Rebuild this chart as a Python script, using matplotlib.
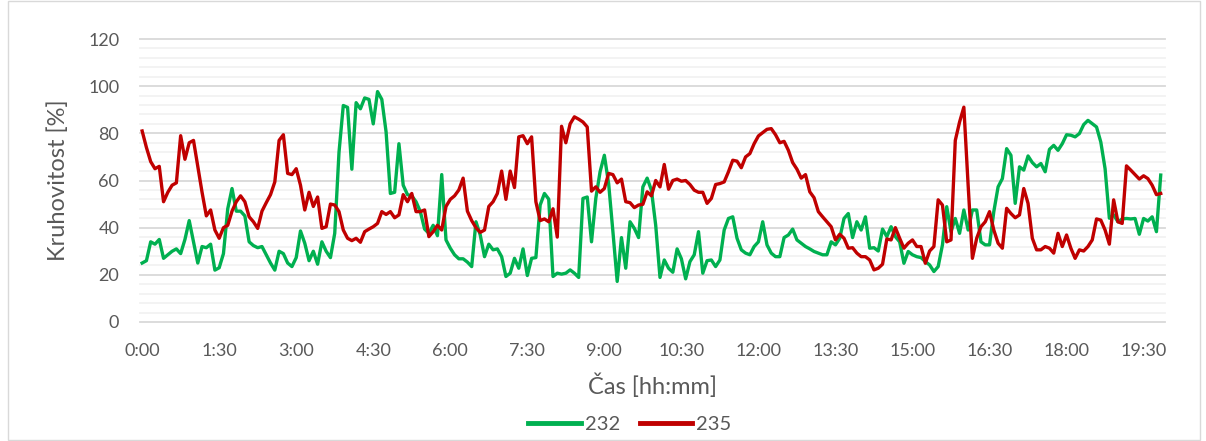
"""Kruhovitost over time for samples 232 and 235 (Excel-style line chart)."""

import matplotlib

matplotlib.use("Agg")
import matplotlib.pyplot as plt
import numpy as np
from matplotlib.lines import Line2D
from matplotlib.patches import Rectangle

plt.rcParams["font.family"] = ["Lato", "DejaVu Sans"]

STEP_MIN = 5  # one reading every 5 minutes
TICK_EVERY_MIN = 90
TICK_LABELS = ["0:00", "1:30", "3:00", "4:30", "6:00", "7:30", "9:00",
               "10:30", "12:00", "13:30", "15:00", "16:30", "18:00", "19:30"]

SERIES_232 = [
    25, 26, 34, 33, 35, 27, 28.5, 30, 31, 29, 35, 43, 34, 25, 32, 31.5, 33, 22, 23, 29,
    48, 56.6, 47, 47, 45, 34, 32.4, 31.5, 32, 28.5, 25, 22, 30, 29, 25,
    23.5, 27.3, 38.6, 33.4, 26, 30, 24.5, 34, 30, 27.3, 37.6, 72, 91.8, 91, 64.8, 93, 90.4,
    95, 94.4, 84, 97.7, 94.4, 80.6, 54.5, 55, 75.6, 58, 54, 53.5, 51, 46.8, 39.4, 37.6, 41,
    36.6, 62.5, 34.8, 31.3, 28.5, 26.8, 26.8, 25.4, 23.5, 42.5, 36.9, 27.7, 33, 30.6, 31,
    27.7, 19.3, 20.7, 27, 22.8, 31, 19.7, 27, 27.3, 49.6, 54.5, 52.1, 19.3, 20.7, 20.3,
    20.7, 22.1, 20.7, 18.9,
    52.4, 53, 34, 52.4, 63.7, 70.7, 58.7, 38.3, 17.2, 35.8, 22.8, 42.5, 39.7, 35.8, 57.3,
    61, 55.9, 41, 18.9, 26.3, 22.8, 21.1, 31, 26.8, 18.3, 25.6, 28.5, 38.3, 20.7, 26,
    26.3, 23.5, 26.3,
    39, 43.9, 44.6, 35.5, 30.6, 29.2, 28.5, 32, 34, 42.5, 32.7, 29.2, 27.7, 27.7, 35.8,
    36.9, 39.4, 34.8, 33.4, 32, 31, 29.9, 29.2, 28.5, 28.5, 34, 32.7, 35.5, 43.9, 46,
    35.8, 42.5, 39, 44.6, 31.3,
    31.5, 30.1, 39.4, 36.2, 40.4, 36.2, 34, 24.9, 29.9, 28.5, 27.7, 27.3, 25.6, 24.2, 21.4,
    23.5, 32.7, 48.9, 38.3, 43.9, 37.6, 47.5, 39, 47.5, 47.5, 34, 32.7, 32.7, 46.8, 57.3,
    60.8, 73.5, 70.7, 50.3,
    65.8, 64.4, 70.4, 67.6, 65.8, 67.2, 63.7, 73.2, 74.9, 72.8, 75.6, 79.4, 79.2, 78.5,
    79.9, 83.7, 85.5, 84.1, 82.7, 76.3, 65, 44, 45.4, 42.5, 43.7, 43.9, 43.7, 43.9, 37.2,
    43.9, 42.8, 44.6, 38.3, 62.3,
]

SERIES_235 = [
    81, 74, 68, 65, 66, 51, 55, 58, 59, 79, 69, 76, 77, 66, 55, 45, 47.5, 39, 35.5, 40,
    41, 47, 51, 53.5, 51, 44.6, 42.5, 39.7, 47, 50.6, 54, 59.4, 77, 79.4, 63,
    62.5, 65, 58, 47.5, 55, 49, 53, 39.7, 40.4, 50, 49.6, 46.8, 39, 35.5, 34.5, 35.5, 33.8,
    38.3, 39.4, 40.4, 41.8, 46.8, 45.6, 46.8, 44.2, 45.4, 54, 51, 54.5, 46.8, 46.8, 47.5,
    36.2, 38.3,
    41, 39, 49, 52, 53.5, 56, 61, 47, 43, 40, 38, 39, 49, 51, 54.5, 64, 52, 64, 57, 78.5,
    79, 75.6, 78.5, 51, 43, 43.7, 42.5, 48, 36, 83, 76, 84, 87, 86,
    84.8, 82.7, 55.5, 57.3, 55, 56.6, 63, 62.5, 59, 60.6, 51, 50.6, 48.5, 49.6, 49.9,
    55.2, 53.5, 60, 57.3, 66.8, 56.3, 60, 60.6, 59.7, 60, 58.3, 55.9, 55, 55, 50.3,
    52.4, 58.3, 58.7,
    59.4, 63.7, 68.6, 68.2, 65.4, 70, 71.4, 75.6, 78.9, 80.3, 81.7, 82, 79.4, 76, 76.6,
    72.8, 67.6, 64.8, 61, 62.5, 55.2, 52.7, 46.8, 44.6, 42.5, 40.4, 34.8, 37.2, 35.5,
    31.3, 31.5, 29.2, 27.7, 27.7, 26.3,
    22.1, 22.8, 24.5, 35.2, 34.8, 40, 35.5, 31.3, 33.4, 34.8, 32, 32, 24.9, 30.1, 32,
    51.8, 49.6, 34, 34.8, 77, 84.8, 91.1, 58, 27, 35.5, 40.4, 42.5, 46.8, 39, 33.4,
    31.3, 48.2, 46, 44.2,
    45.4, 56.6, 50.3, 35.5, 30.6, 30.6, 32, 31.3, 29.2, 37.6, 32, 36.9, 31.3, 27, 30.6,
    30.1, 32, 34.8, 43.7, 43.2, 39, 33, 51.8, 42.5, 41.8, 66.2, 64.4, 62.5, 60.6, 62,
    60.8, 58, 54, 54.5,
]

GREEN = "#00B050"
RED = "#C00000"
TEXT = "#595959"

W, H = 1206, 441


def main() -> None:
    fig = plt.figure(figsize=(W / 100, H / 100), dpi=100)
    ax = fig.add_axes([140 / W, (H - 322) / H, 1025 / W, 283 / H])

    t232 = np.arange(len(SERIES_232)) * STEP_MIN
    t235 = np.arange(len(SERIES_235)) * STEP_MIN
    ax.plot(t232, SERIES_232, color=GREEN, lw=2.4, solid_joinstyle="round")
    ax.plot(t235, SERIES_235, color=RED, lw=2.4, solid_joinstyle="round")

    ax.set_xlim(-2.5, 1195)
    ax.set_ylim(0, 120)
    ax.set_xticks(np.arange(len(TICK_LABELS)) * TICK_EVERY_MIN)
    ax.set_xticklabels(TICK_LABELS)
    ax.set_yticks(np.arange(0, 121, 20))
    ax.set_yticks(np.arange(0, 121, 4), minor=True)

    ax.grid(which="major", axis="y", color="#D9D9D9", lw=1.3, clip_on=False)
    ax.grid(which="minor", axis="y", color="#F2F2F2", lw=1.3, clip_on=False)
    ax.set_axisbelow(True)
    for spine in ax.spines.values():
        spine.set_visible(False)
    ax.tick_params(which="both", length=0, colors=TEXT, labelsize=13)
    ax.tick_params(axis="x", pad=15)
    ax.tick_params(axis="y", pad=15)

    fig.text(58 / W, 1 - 180 / H, "Kruhovitost [%]", rotation=90, ha="center",
             va="center", fontsize=17, color=TEXT)
    fig.text(652 / W, 1 - 386 / H, "Čas [hh:mm]", ha="center", va="center",
             fontsize=17, color=TEXT)

    handles = [Line2D([], [], color=GREEN, lw=3.5), Line2D([], [], color=RED, lw=3.5)]
    fig.legend(handles, ["232", "235"], loc="center", ncol=2, frameon=False,
               bbox_to_anchor=(630 / W, 1 - 424 / H), fontsize=14.5, labelcolor=TEXT,
               handlelength=2.6, handletextpad=0.2, columnspacing=1.0)

    fig.patches.append(Rectangle((8 / W, 1 / H), 1192 / W, 439 / H, transform=fig.transFigure,
                                 fill=False, edgecolor="#D9D9D9", lw=1))

    fig.savefig("out.png", dpi=100)
    plt.close(fig)


if __name__ == "__main__":
    main()
